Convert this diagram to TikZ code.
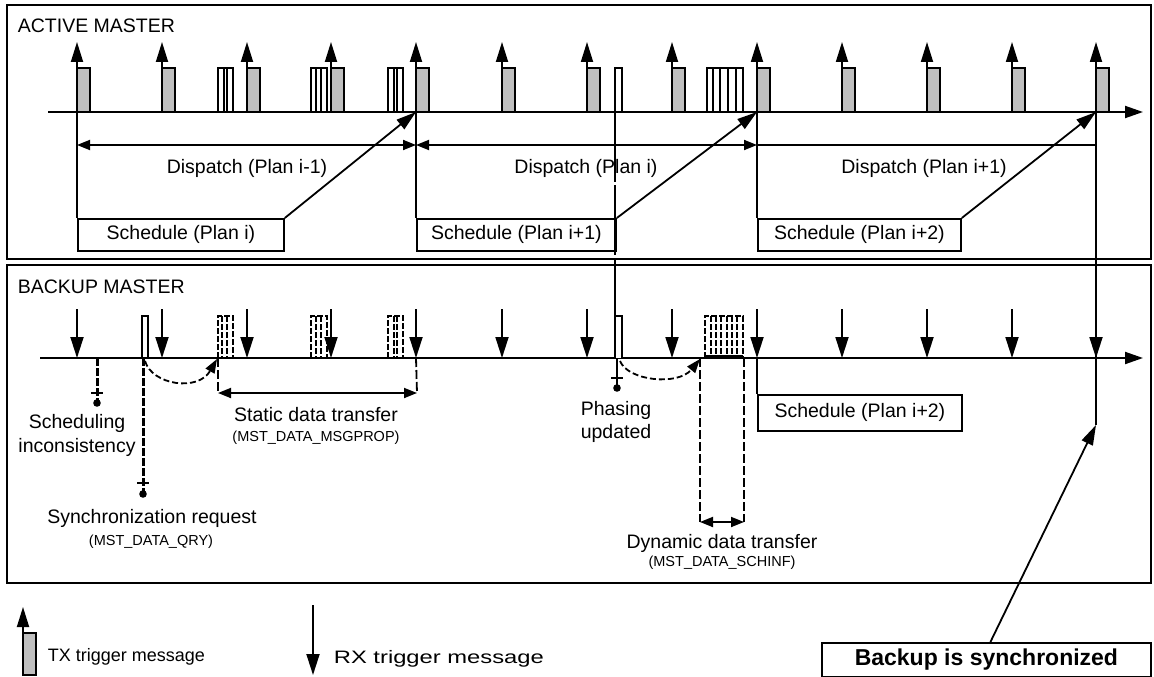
\documentclass[tikz,border=0pt]{standalone}
\usepackage{fontspec}
\setmainfont{Liberation Sans}
\usetikzlibrary{arrows.meta,calc}
\newcommand\MyMain{\fontsize{19.5}{21}\selectfont}
\newcommand\MySmall{\fontsize{14.5}{16}\selectfont}
\newcommand\MyBig{\bfseries\fontsize{23}{26}\selectfont}
\begin{document}
\begin{tikzpicture}[x=1pt,y=-1pt, line width=1.8pt,
  panel/.style={line width=2.2pt},
  axis/.style={line width=2pt,-{Triangle[length=18pt,width=12pt]}},
  txarr/.style={-{Triangle[length=20pt,width=12pt]}},
  rxarr/.style={-{Triangle[length=21pt,width=13pt]}},
  dbl/.style={{Triangle[length=13pt,width=10pt]}-{Triangle[length=13pt,width=10pt]}},
  diag/.style={-{Triangle[length=20pt,width=12pt]}},
  txbox/.style={fill=black!25, draw},
  msgbox/.style={draw, fill=white},
  dmsg/.style={dash pattern=on 6pt off 2pt},
  schedbox/.style={draw, anchor=north west, inner sep=0pt, font=\MyMain},
  lbl/.style={font=\MyMain, inner sep=0pt},
  sml/.style={font=\MySmall, inner sep=0pt},
  dashv/.style={dash pattern=on 9pt off 3pt},
  longv/.style={dash pattern=on 70pt off 3pt},
  curv/.style={dash pattern=on 6pt off 3pt, -{Triangle[length=14pt,width=10pt]}},
  marker/.style={line width=3pt, dash pattern=on 8pt off 2pt},
]
\useasboundingbox (0,0) rectangle (1154,677);

% panels
\draw[panel] (7,5) rectangle (1151,259);
\draw[panel] (7,265) rectangle (1151,583);
\node[lbl, anchor=west] (am) at (17,26) {ACTIVE MASTER};
\node[lbl, anchor=west] (bm) at (17,287) {BACKUP MASTER};

% tick coordinates
\foreach \i/\x in {1/77,2/162,3/247,4/331,5/416,6/502,7/587,8/672,9/757,10/842,11/927,12/1012,13/1096} {
  \coordinate (T\i) at (\x,112);
  \coordinate (B\i) at (\x,358);
}

% axes
\coordinate (TA0) at (48,112);  \coordinate (TA1) at (1143,112);
\coordinate (BA0) at (40,358);  \coordinate (BA1) at (1143,358);
\draw[axis] (TA0) -- (TA1);
\draw[axis] (BA0) -- (BA1);

% ---------- top: other messages
\draw[msgbox] (218,68) rectangle (233,112); \draw (224,68)--(224,112); \draw (227,68)--(227,112);
\draw[msgbox] (311,68) rectangle (327,112); \draw (316,68)--(316,112); \draw (321,68)--(321,112);
\draw[msgbox] (388,68) rectangle (403,112); \draw (394,68)--(394,112); \draw (397,68)--(397,112);
\draw[msgbox] (615,68) rectangle (622,112);
\draw[msgbox] (707,68) rectangle (743,112);
\foreach \x in {713,720,728,736} \draw (\x,68)--(\x,112);

% TX triggers
\foreach \i in {1,...,13} {
  \draw[txbox] (T\i) rectangle ++(13,-44);
  \draw[txarr] (T\i) -- ++(0,-70);
}

% schedule boxes (top)
\node[schedbox, minimum width=206pt, minimum height=32pt] (S1) at (77,218) {Schedule (Plan i)};
\node[schedbox, minimum width=199pt, minimum height=32pt] (S2) at (416,218) {Schedule (Plan i+1)};
\node[schedbox, minimum width=203pt, minimum height=32pt] (S3) at (757,218) {Schedule (Plan i+2)};
\draw (T1) -- (S1.north west);
\draw (T5) -- (S2.north west);
\draw (T9) -- (S3.north west);
\draw[diag] (S1.north east) -- (T5);
\draw[diag] (S2.north east) -- (T9);
\draw[diag] (S3.north east) -- (T13);

% dispatch
\coordinate (D1) at (77,145); \coordinate (D2) at (416,145);
\coordinate (D3) at (757,145); \coordinate (D4) at (1096,145);
\draw[dbl] (D1) -- (D2);
\draw[dbl] (D2) -- (D3);
\draw (D3) -- (D4);
\node[lbl] (dp1) at (247,168) {Dispatch (Plan i-1)};
\node[lbl] (dp2) at (586,168) {Dispatch (Plan i)};
\node[lbl] (dp3) at (924,168) {Dispatch (Plan i+1)};

% long phasing line
\coordinate (PH0) at (615,112); \coordinate (PH1) at (615,316);
\draw[longv] (PH0) -- (PH1);

% ---------- bottom: messages
\draw[msgbox] (142,316) rectangle (148,358);
\foreach \a/\b in {218/233,311/327,388/403} {
  \draw[dmsg] (\a,358) -- (\a,316) -- (\b,316) -- (\b,358);
}
\draw[dmsg] (222,316)--(222,358); \draw[dmsg] (227,316)--(227,358);
\draw[dmsg] (316,316)--(316,358); \draw[dmsg] (321,316)--(321,358);
\draw[dmsg] (394,316)--(394,358); \draw[dmsg] (397,316)--(397,358);
\draw[fill=white] (615,358) -- (615,316) -- (622,316) -- (622,358);
\draw[dmsg] (705,358) -- (705,316) -- (743,316) -- (743,358);
\foreach \x in {711,716,721,727,732,737} \draw[dmsg] (\x,316)--(\x,358);
\draw[line width=4pt] (705,357) -- (743,357);

% RX triggers
\foreach \i in {1,...,13} {
  \draw[rxarr] ($(B\i)+(0,-49)$) -- (B\i);
}

% scheduling inconsistency
\coordinate (SI0) at (97,358); \coordinate (SI1) at (97,403);
\draw[marker] (SI0) -- (SI1);
\draw (91,393) -- (103,393);
\fill (SI1) circle (3.8pt);
\node[lbl] (si1) at (77,423) {Scheduling};
\node[lbl] (si2) at (77,447) {inconsistency};

% synchronization request
\coordinate (SR0) at (143,358); \coordinate (SR1) at (143,494);
\draw[marker] (SR0) -- (SR1);
\draw (137,483) -- (149,483);
\fill (SR1) circle (3.8pt);
\node[lbl] (sr1) at (152,518) {Synchronization request};
\node[sml] (sr2) at (151,542) {(MST\_DATA\_QRY)};

% curved arrows
\coordinate (C1a) at (145,361); \coordinate (C1b) at (217,359);
\draw[curv] (C1a) .. controls (152,385) and (198,392) .. (C1b);
\coordinate (C2a) at (620,361); \coordinate (C2b) at (700,359);
\draw[curv] (C2a) .. controls (628,381) and (678,386) .. (C2b);

% static data transfer
\coordinate (SD0) at (218,393); \coordinate (SD1) at (417,393);
\draw[dashv] (218,358) -- (SD0);
\draw[dashv] (B5) -- (SD1);
\draw[dbl] (SD0) -- (SD1);
\node[lbl] (sd1) at (316,415) {Static data transfer};
\node[sml] (sd2) at (316,438) {(MST\_DATA\_MSGPROP)};

% phasing updated
\coordinate (PU0) at (617,358); \coordinate (PU1) at (617,388);
\draw (PU0) -- (PU1);
\draw (611,378) -- (623,378);
\fill (PU1) circle (3.8pt);
\node[lbl] (pu1) at (616,410) {Phasing};
\node[lbl] (pu2) at (616,433) {updated};

% dynamic data transfer
\coordinate (DD0) at (700,522); \coordinate (DD1) at (744,522);
\draw[dashv] (700,358) -- (DD0);
\draw[dashv] (744,358) -- (DD1);
\draw[dbl] (DD0) -- (DD1);
\node[lbl] (dd1) at (722,543) {Dynamic data transfer};
\node[sml] (dd2) at (722,563) {(MST\_DATA\_SCHINF)};

% schedule box (bottom)
\node[schedbox, minimum width=204pt, minimum height=36pt] (S4) at (757,394) {Schedule (Plan i+2)};
\draw (B9) -- (S4.north west);

% synchronized line
\coordinate (SY) at (1096,425);
\draw (T13) -- (SY);
\node[draw, anchor=north west, minimum width=329pt, minimum height=34pt, inner sep=0pt, font=\MyBig] (BS) at (821,642) {Backup is synchronized};
\draw[diag] ([xshift=4pt]BS.north) -- (SY);

% legend
\coordinate (LT0) at (23,633); \coordinate (LT1) at (23,607);
\draw[txbox] (LT0) rectangle (36,675);
\draw[txarr] (LT0) -- (LT1);
\node[lbl, anchor=west, font=\fontsize{18}{20}\selectfont] (ltx) at (47,657) {TX trigger message};
\coordinate (LR0) at (313,605); \coordinate (LR1) at (313,675);
\draw[rxarr] (LR0) -- (LR1);
\node[lbl, anchor=west, font=\fontsize{18}{20}\selectfont] (lrx) at (333,659) {\scalebox{1.32}[1]{RX trigger message}};
\end{tikzpicture}
\end{document}
